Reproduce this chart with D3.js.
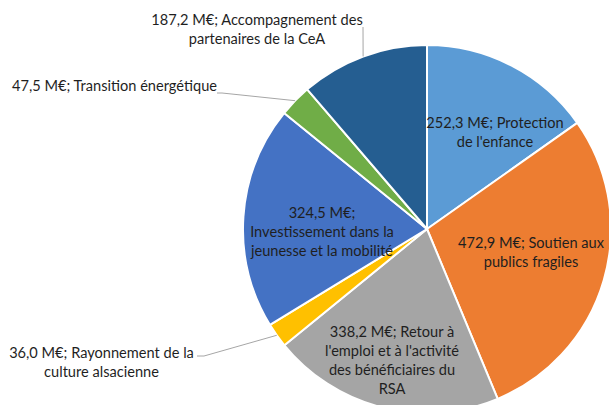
<!DOCTYPE html>
<html>
<head>
<meta charset="utf-8">
<script src="https://cdn.jsdelivr.net/npm/d3@7"></script>
<style>
  html, body { margin: 0; padding: 0; background: #fff; }
  svg { display: block; }
  text { font-family: Lato, "Open Sans", sans-serif; font-size: 14.6px; fill: #1f1f1f; }
</style>
</head>
<body>
<svg id="chart" width="609" height="405"></svg>
<script>
// ---- data ----
const categories = [
  "Protection de l'enfance",
  "Soutien aux publics fragiles",
  "Retour à l'emploi et à l'activité des bénéficiaires du RSA",
  "Rayonnement de la culture alsacienne",
  "Investissement dans la jeunesse et la mobilité",
  "Transition énergétique",
  "Accompagnement des partenaires de la CeA"
];
const values = [252.3, 472.9, 338.2, 36.0, 324.5, 47.5, 187.2];
const unit = "M€";

// ---- styles / layout ----
const colors = ["#5B9BD5", "#ED7D31", "#A5A5A5", "#FFC000", "#4472C4", "#70AD47", "#255E91"];
const labelLines = [
  ["{v}; Protection", "de l'enfance"],
  ["{v}; Soutien aux", "publics fragiles"],
  ["{v}; Retour à", "l'emploi et à l'activité", "des bénéficiaires du", "RSA"],
  ["{v}; Rayonnement de la", "culture alsacienne"],
  ["{v};", "Investissement dans la", "jeunesse et la mobilité"],
  ["{v}; Transition énergétique"],
  ["{v}; Accompagnement des", "partenaires de la CeA"]
];
// label block centres and leader elbows (layout)
const labelPos = [
  {x: 495, y: 132.5},
  {x: 531, y: 252.5},
  {x: 392, y: 360},
  {x: 101.5, y: 362, leader: [[204, 356], [197, 356]]},
  {x: 322, y: 231.5},
  {x: 114.5, y: 86, leader: [[222, 93], [217, 93]]},
  {x: 257, y: 29.5, leader: [[363, 27]]}
];
const lineH = 19;

const cx = 427, cy = 229, r = 184;
const svg = d3.select("#chart");
const g = svg.append("g").attr("transform", `translate(${cx},${cy})`);

const fmt = v => d3.format(".1f")(v).replace(".", ",") + " " + unit;
const data = categories.map((c, i) => ({category: c, value: values[i], i}));

const pie = d3.pie().sort(null).value(d => d.value);
const arcs = pie(data);
const arc = d3.arc().innerRadius(0).outerRadius(r);
const color = d3.scaleOrdinal().domain(categories).range(colors);

g.selectAll("path.slice").data(arcs).join("path")
  .attr("class", "slice")
  .attr("d", arc)
  .attr("fill", d => color(d.data.category))
  .attr("stroke", "#fff")
  .attr("stroke-width", 2)
  .attr("stroke-linejoin", "round");

// leader lines
arcs.forEach(a => {
  const lp = labelPos[a.index];
  if (!lp.leader) return;
  const mid = (a.startAngle + a.endAngle) / 2;
  const start = [Math.sin(mid) * r, -Math.cos(mid) * r];
  const pts = [start].concat(lp.leader.map(p => [p[0] - cx, p[1] - cy]));
  g.append("path")
    .attr("d", d3.line()(pts))
    .attr("fill", "none")
    .attr("stroke", "#A6A6A6")
    .attr("stroke-width", 1);
});

// labels
arcs.forEach(a => {
  const lp = labelPos[a.index];
  const lines = labelLines[a.index].map(s => s.replace("{v}", fmt(a.data.value)));
  const n = lines.length;
  const t = svg.append("text")
    .attr("text-anchor", "middle");
  lines.forEach((s, k) => {
    t.append("tspan")
      .attr("x", lp.x)
      .attr("y", lp.y + (k - (n - 1) / 2) * lineH)
      .attr("dy", "0.35em")
      .text(s);
  });
});
</script>
</body>
</html>
